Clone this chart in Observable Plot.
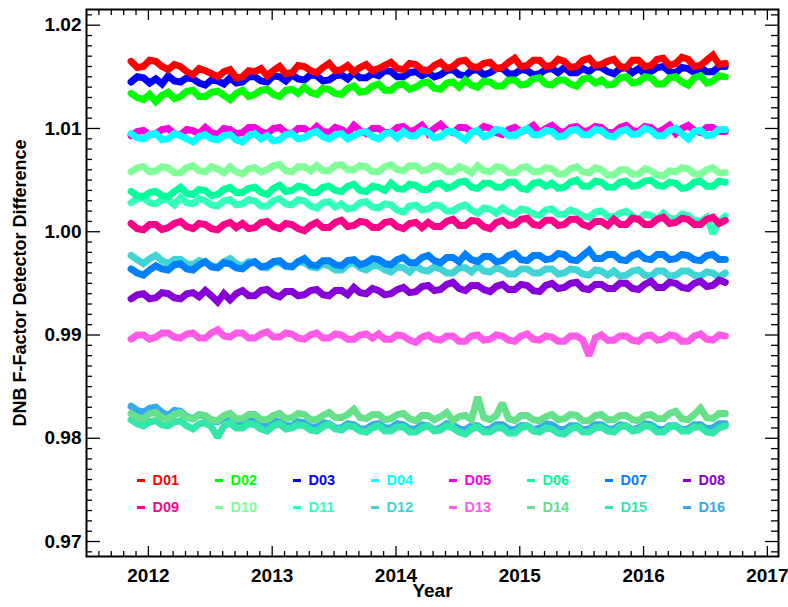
<!DOCTYPE html>
<html>
<head>
<meta charset="utf-8">
<script src="https://cdn.jsdelivr.net/npm/d3@7"></script>
<script src="https://cdn.jsdelivr.net/npm/@observablehq/plot@0.6"></script>
<style>
  body { margin: 0; background: #fff; }
  #wrap { position: relative; width: 788px; height: 607px; font-family: "Liberation Sans", Arial, sans-serif; }
  #legend { position: absolute; left: 137px; top: 466.5px; display: grid; grid-template-columns: repeat(8, 78px); grid-auto-rows: 27px; font-weight: bold; font-size: 14.5px; }
  #legend .item { display: flex; align-items: center; white-space: nowrap; }
  #legend .dash { display: inline-block; width: 8px; height: 3px; margin-right: 7.5px; }
</style>
</head>
<body>
<div id="wrap"><div id="legend"></div></div>
<script>
// Sample times (decimal year)
const t = [2011.86, 2011.91, 2011.96,
  2012.01, 2012.06, 2012.11, 2012.16, 2012.21, 2012.26, 2012.31, 2012.36, 2012.41, 2012.46, 2012.51, 2012.56, 2012.61, 2012.66, 2012.71, 2012.76, 2012.81, 2012.86, 2012.91, 2012.96,
  2013.01, 2013.06, 2013.11, 2013.16, 2013.21, 2013.26, 2013.31, 2013.36, 2013.41, 2013.46, 2013.51, 2013.56, 2013.61, 2013.66, 2013.71, 2013.76, 2013.81, 2013.86, 2013.91, 2013.96,
  2014.01, 2014.06, 2014.11, 2014.16, 2014.21, 2014.26, 2014.31, 2014.36, 2014.41, 2014.46, 2014.51, 2014.56, 2014.61, 2014.66, 2014.71, 2014.76, 2014.81, 2014.86, 2014.91, 2014.96,
  2015.01, 2015.06, 2015.11, 2015.16, 2015.21, 2015.26, 2015.31, 2015.36, 2015.41, 2015.46, 2015.51, 2015.56, 2015.61, 2015.66, 2015.71, 2015.76, 2015.81, 2015.86, 2015.91, 2015.96,
  2016.01, 2016.06, 2016.11, 2016.16, 2016.21, 2016.26, 2016.31, 2016.36, 2016.41, 2016.46, 2016.51, 2016.56, 2016.61, 2016.66];

const D01 = [1.0165,1.0159,1.0160,1.0166,1.0165,1.0160,1.0157,1.0162,1.0160,1.0155,1.0152,1.0158,1.0156,1.0153,1.0150,1.0155,1.0157,1.0149,1.0150,1.0156,1.0155,1.0158,1.0151,1.0156,1.0160,1.0153,1.0154,1.0161,1.0160,1.0156,1.0154,1.0159,1.0163,1.0156,1.0157,1.0161,1.0155,1.0159,1.0162,1.0156,1.0158,1.0161,1.0164,1.0158,1.0157,1.0163,1.0162,1.0157,1.0156,1.0161,1.0164,1.0158,1.0160,1.0165,1.0166,1.0160,1.0159,1.0163,1.0164,1.0158,1.0159,1.0164,1.0168,1.0160,1.0161,1.0166,1.0166,1.0160,1.0161,1.0167,1.0165,1.0159,1.0160,1.0166,1.0168,1.0161,1.0162,1.0165,1.0167,1.0160,1.0159,1.0166,1.0166,1.0160,1.0161,1.0167,1.0168,1.0161,1.0163,1.0169,1.0167,1.0160,1.0161,1.0166,1.0171,1.0162,1.0163];
const D02 = [1.0134,1.0130,1.0128,1.0133,1.0126,1.0132,1.0135,1.0129,1.0131,1.0136,1.0137,1.0131,1.0131,1.0135,1.0136,1.0132,1.0128,1.0134,1.0137,1.0131,1.0133,1.0137,1.0138,1.0133,1.0131,1.0137,1.0138,1.0134,1.0140,1.0135,1.0133,1.0139,1.0138,1.0134,1.0133,1.0139,1.0141,1.0135,1.0136,1.0141,1.0143,1.0137,1.0137,1.0142,1.0143,1.0138,1.0140,1.0144,1.0145,1.0139,1.0138,1.0144,1.0145,1.0140,1.0147,1.0142,1.0140,1.0146,1.0145,1.0141,1.0141,1.0147,1.0147,1.0142,1.0143,1.0148,1.0149,1.0143,1.0142,1.0147,1.0147,1.0143,1.0141,1.0148,1.0149,1.0144,1.0147,1.0142,1.0143,1.0149,1.0150,1.0144,1.0145,1.0150,1.0149,1.0143,1.0143,1.0149,1.0150,1.0145,1.0142,1.0149,1.0151,1.0144,1.0146,1.0151,1.0150];
const D03 = [1.0145,1.0150,1.0149,1.0144,1.0148,1.0143,1.0151,1.0146,1.0145,1.0149,1.0148,1.0144,1.0142,1.0147,1.0146,1.0143,1.0149,1.0144,1.0145,1.0150,1.0150,1.0146,1.0145,1.0151,1.0150,1.0146,1.0152,1.0148,1.0147,1.0152,1.0151,1.0146,1.0147,1.0151,1.0152,1.0148,1.0154,1.0149,1.0149,1.0153,1.0151,1.0156,1.0155,1.0150,1.0150,1.0154,1.0155,1.0151,1.0154,1.0150,1.0152,1.0156,1.0157,1.0152,1.0151,1.0156,1.0157,1.0152,1.0154,1.0158,1.0158,1.0153,1.0153,1.0157,1.0156,1.0152,1.0153,1.0157,1.0158,1.0154,1.0159,1.0154,1.0154,1.0158,1.0155,1.0160,1.0159,1.0155,1.0153,1.0158,1.0159,1.0154,1.0158,1.0153,1.0155,1.0159,1.0160,1.0155,1.0154,1.0159,1.0158,1.0154,1.0159,1.0155,1.0155,1.0160,1.0160];
const D04 = [1.0095,1.0091,1.0090,1.0094,1.0095,1.0089,1.0090,1.0095,1.0093,1.0090,1.0087,1.0092,1.0094,1.0090,1.0089,1.0093,1.0094,1.0089,1.0087,1.0093,1.0095,1.0090,1.0093,1.0088,1.0089,1.0094,1.0095,1.0090,1.0091,1.0095,1.0097,1.0092,1.0090,1.0094,1.0095,1.0090,1.0093,1.0096,1.0097,1.0092,1.0090,1.0095,1.0096,1.0091,1.0097,1.0093,1.0093,1.0098,1.0096,1.0091,1.0092,1.0097,1.0097,1.0093,1.0089,1.0096,1.0098,1.0092,1.0094,1.0099,1.0098,1.0093,1.0093,1.0097,1.0100,1.0094,1.0094,1.0098,1.0097,1.0092,1.0093,1.0098,1.0099,1.0094,1.0094,1.0099,1.0098,1.0093,1.0092,1.0097,1.0099,1.0094,1.0095,1.0100,1.0098,1.0093,1.0093,1.0098,1.0100,1.0095,1.0090,1.0097,1.0098,1.0093,1.0094,1.0099,1.0099];
const D05 = [1.0093,1.0097,1.0098,1.0094,1.0095,1.0099,1.0100,1.0095,1.0094,1.0099,1.0098,1.0095,1.0101,1.0096,1.0094,1.0100,1.0099,1.0095,1.0096,1.0101,1.0101,1.0097,1.0095,1.0100,1.0101,1.0096,1.0095,1.0100,1.0100,1.0096,1.0102,1.0097,1.0096,1.0101,1.0099,1.0095,1.0103,1.0098,1.0095,1.0100,1.0100,1.0096,1.0096,1.0101,1.0102,1.0097,1.0099,1.0103,1.0095,1.0100,1.0104,1.0098,1.0096,1.0101,1.0101,1.0097,1.0097,1.0102,1.0100,1.0096,1.0094,1.0099,1.0101,1.0097,1.0099,1.0103,1.0096,1.0100,1.0103,1.0098,1.0096,1.0101,1.0102,1.0097,1.0098,1.0102,1.0101,1.0096,1.0096,1.0101,1.0103,1.0098,1.0097,1.0102,1.0101,1.0096,1.0099,1.0103,1.0095,1.0100,1.0103,1.0098,1.0096,1.0101,1.0101,1.0097,1.0097];
const D06 = [1.0039,1.0035,1.0034,1.0038,1.0039,1.0035,1.0034,1.0039,1.0043,1.0037,1.0036,1.0041,1.0040,1.0035,1.0036,1.0041,1.0043,1.0038,1.0038,1.0042,1.0043,1.0038,1.0036,1.0042,1.0045,1.0039,1.0040,1.0044,1.0043,1.0038,1.0038,1.0043,1.0044,1.0040,1.0039,1.0044,1.0046,1.0040,1.0039,1.0044,1.0043,1.0040,1.0047,1.0042,1.0041,1.0046,1.0045,1.0041,1.0041,1.0046,1.0047,1.0042,1.0044,1.0048,1.0049,1.0043,1.0042,1.0047,1.0047,1.0043,1.0043,1.0048,1.0048,1.0042,1.0041,1.0047,1.0048,1.0044,1.0047,1.0042,1.0043,1.0048,1.0050,1.0044,1.0044,1.0049,1.0048,1.0043,1.0043,1.0048,1.0049,1.0044,1.0045,1.0049,1.0050,1.0045,1.0044,1.0048,1.0047,1.0042,1.0043,1.0048,1.0049,1.0044,1.0044,1.0049,1.0048];
const D07 = [0.9964,0.9960,0.9958,0.9963,0.9967,0.9964,0.9963,0.9968,0.9969,0.9964,0.9963,0.9968,0.9971,0.9966,0.9965,0.9970,0.9969,0.9965,0.9964,0.9969,0.9971,0.9966,0.9967,0.9971,0.9972,0.9967,0.9966,0.9971,0.9974,0.9968,0.9967,0.9972,0.9972,0.9968,0.9967,0.9972,0.9973,0.9968,0.9970,0.9974,0.9973,0.9969,0.9968,0.9973,0.9975,0.9970,0.9970,0.9975,0.9977,0.9972,0.9970,0.9975,0.9975,0.9971,0.9978,0.9973,0.9971,0.9976,0.9976,0.9971,0.9972,0.9977,0.9979,0.9973,0.9972,0.9977,0.9977,0.9973,0.9974,0.9979,0.9978,0.9973,0.9972,0.9977,0.9982,0.9974,0.9974,0.9978,0.9978,0.9973,0.9972,0.9977,0.9979,0.9974,0.9973,0.9978,0.9978,0.9973,0.9974,0.9978,0.9977,0.9973,0.9972,0.9977,0.9978,0.9973,0.9973];
const D08 = [0.9935,0.9939,0.9940,0.9935,0.9936,0.9941,0.9940,0.9936,0.9935,0.9940,0.9941,0.9937,0.9943,0.9938,0.9932,0.9940,0.9934,0.9940,0.9943,0.9938,0.9938,0.9943,0.9944,0.9939,0.9937,0.9942,0.9942,0.9938,0.9939,0.9943,0.9944,0.9939,0.9938,0.9943,0.9943,0.9939,0.9946,0.9941,0.9940,0.9945,0.9943,0.9939,0.9940,0.9944,0.9946,0.9941,0.9942,0.9947,0.9948,0.9943,0.9944,0.9949,0.9951,0.9945,0.9943,0.9948,0.9948,0.9944,0.9942,0.9947,0.9949,0.9944,0.9944,0.9949,0.9948,0.9943,0.9942,0.9948,0.9950,0.9945,0.9946,0.9950,0.9951,0.9945,0.9944,0.9949,0.9949,0.9945,0.9945,0.9950,0.9950,0.9945,0.9944,0.9949,0.9952,0.9946,0.9946,0.9951,0.9950,0.9946,0.9945,0.9950,0.9952,0.9947,0.9948,0.9953,0.9951];
const D09 = [1.0008,1.0003,1.0002,1.0007,1.0007,1.0002,1.0004,1.0008,1.0010,1.0005,1.0003,1.0008,1.0007,1.0003,1.0002,1.0007,1.0009,1.0004,1.0008,1.0003,1.0004,1.0009,1.0010,1.0005,1.0003,1.0008,1.0007,1.0003,1.0001,1.0006,1.0009,1.0004,1.0004,1.0009,1.0011,1.0005,1.0006,1.0010,1.0009,1.0004,1.0004,1.0009,1.0010,1.0005,1.0003,1.0008,1.0009,1.0004,1.0009,1.0005,1.0005,1.0010,1.0012,1.0006,1.0006,1.0011,1.0010,1.0005,1.0003,1.0009,1.0011,1.0006,1.0007,1.0012,1.0013,1.0007,1.0006,1.0011,1.0011,1.0006,1.0007,1.0012,1.0012,1.0007,1.0005,1.0010,1.0010,1.0006,1.0012,1.0007,1.0007,1.0013,1.0012,1.0007,1.0007,1.0012,1.0014,1.0008,1.0009,1.0013,1.0012,1.0007,1.0007,1.0012,1.0014,1.0008,1.0011];
const D10 = [1.0058,1.0062,1.0063,1.0058,1.0059,1.0063,1.0062,1.0057,1.0057,1.0062,1.0064,1.0059,1.0058,1.0063,1.0061,1.0057,1.0063,1.0058,1.0056,1.0061,1.0062,1.0058,1.0060,1.0064,1.0065,1.0059,1.0058,1.0063,1.0063,1.0059,1.0064,1.0059,1.0059,1.0064,1.0065,1.0060,1.0060,1.0064,1.0063,1.0058,1.0058,1.0063,1.0065,1.0060,1.0059,1.0064,1.0064,1.0059,1.0060,1.0064,1.0063,1.0058,1.0058,1.0063,1.0061,1.0057,1.0064,1.0059,1.0058,1.0063,1.0062,1.0057,1.0057,1.0062,1.0063,1.0058,1.0058,1.0062,1.0061,1.0056,1.0056,1.0061,1.0063,1.0058,1.0057,1.0062,1.0060,1.0055,1.0055,1.0060,1.0060,1.0056,1.0056,1.0061,1.0059,1.0055,1.0054,1.0059,1.0058,1.0062,1.0061,1.0056,1.0056,1.0060,1.0062,1.0057,1.0057];
const D11 = [1.0028,1.0032,1.0033,1.0028,1.0027,1.0031,1.0031,1.0026,1.0033,1.0028,1.0027,1.0032,1.0030,1.0026,1.0025,1.0030,1.0031,1.0026,1.0027,1.0031,1.0030,1.0025,1.0025,1.0030,1.0032,1.0027,1.0026,1.0031,1.0030,1.0025,1.0023,1.0028,1.0029,1.0024,1.0027,1.0022,1.0023,1.0028,1.0029,1.0024,1.0023,1.0027,1.0026,1.0021,1.0019,1.0025,1.0026,1.0021,1.0022,1.0026,1.0025,1.0020,1.0020,1.0024,1.0026,1.0021,1.0018,1.0023,1.0022,1.0018,1.0023,1.0019,1.0017,1.0022,1.0021,1.0017,1.0016,1.0021,1.0022,1.0017,1.0017,1.0021,1.0019,1.0015,1.0014,1.0019,1.0020,1.0015,1.0014,1.0018,1.0020,1.0015,1.0012,1.0017,1.0016,1.0012,1.0018,1.0013,1.0012,1.0017,1.0016,1.0011,1.0010,1.0014,0.9998,1.0010,1.0015];
const D12 = [0.9977,0.9973,0.9969,0.9974,0.9977,0.9972,0.9969,0.9973,0.9973,0.9969,0.9968,0.9972,0.9970,0.9967,0.9966,0.9971,0.9974,0.9969,0.9967,0.9971,0.9970,0.9966,0.9965,0.9970,0.9970,0.9966,0.9966,0.9971,0.9970,0.9966,0.9965,0.9969,0.9967,0.9963,0.9963,0.9968,0.9970,0.9965,0.9963,0.9967,0.9967,0.9963,0.9961,0.9966,0.9965,0.9961,0.9967,0.9963,0.9962,0.9966,0.9964,0.9960,0.9960,0.9965,0.9965,0.9961,0.9967,0.9962,0.9961,0.9965,0.9963,0.9959,0.9959,0.9964,0.9964,0.9960,0.9960,0.9964,0.9964,0.9959,0.9960,0.9964,0.9963,0.9959,0.9958,0.9963,0.9962,0.9958,0.9962,0.9957,0.9958,0.9962,0.9963,0.9958,0.9957,0.9962,0.9962,0.9957,0.9958,0.9962,0.9962,0.9958,0.9957,0.9961,0.9960,0.9956,0.9960];
const D13 = [0.9896,0.9900,0.9900,0.9896,0.9898,0.9902,0.9902,0.9898,0.9897,0.9901,0.9902,0.9897,0.9897,0.9902,0.9905,0.9899,0.9898,0.9902,0.9902,0.9897,0.9897,0.9901,0.9903,0.9898,0.9898,0.9902,0.9901,0.9897,0.9896,0.9900,0.9902,0.9897,0.9897,0.9901,0.9900,0.9896,0.9896,0.9900,0.9901,0.9897,0.9901,0.9896,0.9896,0.9900,0.9899,0.9895,0.9893,0.9898,0.9900,0.9896,0.9895,0.9899,0.9899,0.9894,0.9894,0.9899,0.9900,0.9895,0.9896,0.9900,0.9899,0.9895,0.9894,0.9899,0.9901,0.9896,0.9895,0.9899,0.9898,0.9894,0.9894,0.9899,0.9899,0.9895,0.9880,0.9897,0.9900,0.9895,0.9895,0.9899,0.9899,0.9895,0.9894,0.9899,0.9900,0.9895,0.9896,0.9900,0.9899,0.9894,0.9894,0.9899,0.9901,0.9896,0.9895,0.9900,0.9899];
const D14 = [0.9824,0.9820,0.9819,0.9824,0.9825,0.9820,0.9819,0.9823,0.9825,0.9820,0.9819,0.9823,0.9822,0.9818,0.9817,0.9822,0.9824,0.9819,0.9819,0.9823,0.9823,0.9818,0.9818,0.9822,0.9824,0.9819,0.9820,0.9824,0.9823,0.9818,0.9818,0.9822,0.9825,0.9820,0.9820,0.9823,0.9828,0.9820,0.9819,0.9823,0.9823,0.9818,0.9819,0.9823,0.9824,0.9819,0.9817,0.9822,0.9822,0.9818,0.9821,0.9825,0.9817,0.9821,0.9822,0.9818,0.9840,0.9820,0.9818,0.9822,0.9834,0.9819,0.9817,0.9822,0.9822,0.9818,0.9817,0.9821,0.9823,0.9818,0.9819,0.9823,0.9822,0.9817,0.9817,0.9822,0.9823,0.9818,0.9818,0.9822,0.9822,0.9818,0.9817,0.9822,0.9823,0.9819,0.9819,0.9824,0.9826,0.9819,0.9818,0.9823,0.9829,0.9820,0.9819,0.9824,0.9824];
const D15 = [0.9818,0.9814,0.9812,0.9816,0.9817,0.9813,0.9812,0.9816,0.9817,0.9812,0.9809,0.9814,0.9815,0.9811,0.9801,0.9812,0.9815,0.9810,0.9810,0.9814,0.9813,0.9809,0.9807,0.9812,0.9814,0.9809,0.9810,0.9813,0.9812,0.9808,0.9807,0.9811,0.9814,0.9809,0.9808,0.9812,0.9811,0.9807,0.9806,0.9810,0.9812,0.9807,0.9807,0.9811,0.9811,0.9806,0.9806,0.9810,0.9812,0.9807,0.9808,0.9812,0.9810,0.9806,0.9804,0.9809,0.9811,0.9806,0.9806,0.9810,0.9810,0.9805,0.9805,0.9810,0.9812,0.9807,0.9806,0.9810,0.9809,0.9805,0.9804,0.9809,0.9811,0.9806,0.9806,0.9810,0.9811,0.9807,0.9806,0.9811,0.9812,0.9807,0.9808,0.9812,0.9811,0.9806,0.9806,0.9811,0.9812,0.9807,0.9807,0.9811,0.9811,0.9806,0.9805,0.9810,0.9812];
const D16 = [0.9831,0.9827,0.9825,0.9829,0.9830,0.9825,0.9822,0.9827,0.9826,0.9821,0.9819,0.9823,0.9821,0.9817,0.9816,0.9820,0.9819,0.9815,0.9814,0.9818,0.9818,0.9814,0.9813,0.9817,0.9816,0.9812,0.9812,0.9816,0.9815,0.9811,0.9811,0.9815,0.9814,0.9810,0.9810,0.9814,0.9813,0.9809,0.9809,0.9813,0.9814,0.9810,0.9810,0.9814,0.9813,0.9809,0.9809,0.9813,0.9812,0.9808,0.9810,0.9814,0.9813,0.9809,0.9808,0.9812,0.9812,0.9808,0.9809,0.9813,0.9813,0.9809,0.9808,0.9812,0.9812,0.9808,0.9810,0.9814,0.9813,0.9809,0.9808,0.9812,0.9812,0.9808,0.9809,0.9813,0.9813,0.9809,0.9809,0.9813,0.9812,0.9808,0.9810,0.9814,0.9813,0.9809,0.9808,0.9812,0.9812,0.9808,0.9809,0.9813,0.9813,0.9809,0.9810,0.9814,0.9814];

const names = ["D01","D02","D03","D04","D05","D06","D07","D08","D09","D10","D11","D12","D13","D14","D15","D16"];
const colors = ["#ff0000","#00ff00","#0000ff","#00ffff","#ff00dd","#00ff99","#0080ff","#8800d8",
                "#ff0088","#80ff99","#33ffbb","#40d4d4","#ff5ae8","#66e08a","#33e6aa","#33aaea"];
const series = [D01,D02,D03,D04,D05,D06,D07,D08,D09,D10,D11,D12,D13,D14,D15,D16];

const yearTicks = [2012, 2013, 2014, 2015, 2016, 2017];
const yTicks = [0.97, 0.98, 0.99, 1.00, 1.01, 1.02];
const yTitle = "DNB F-Factor Detector Difference";
const xTitle = "Year";

// long table; drawn D16 first so D01 ends on top
const rows = [];
for (let i = series.length - 1; i >= 0; i--) {
  series[i].forEach((v, j) => { if (j < t.length) rows.push({series: names[i], t: t[j], v}); });
}

const xMinor = d3.range(20116, 20171).filter(i => i % 10 !== 0).map(i => i / 10);
const yMinor = d3.range(969, 1022).filter(i => i % 10 !== 0).map(i => i / 1000);

const W = 788, H = 607, mL = 86, mR = 10, mT = 9, mB = 51;
const iw = W - mL - mR, ih = H - mT - mB;
const tk = {stroke: "#000", strokeWidth: 1.3};

const chart = Plot.plot({
  width: W, height: H,
  marginLeft: mL, marginRight: mR, marginTop: mT, marginBottom: mB,
  x: {domain: [2011.5, 2017.09]},
  y: {domain: [0.96855, 1.02152]},
  color: {domain: names, range: colors},
  style: {fontFamily: "'Liberation Sans', Arial, sans-serif", fontSize: "19px", fontWeight: "bold", background: "#fff", color: "#000"},
  marks: [
    Plot.line(rows, {x: "t", y: "v", z: "series", stroke: "series", strokeWidth: 7, strokeLinejoin: "miter", strokeMiterlimit: 2}),
    // inward ticks, bottom/top
    Plot.ruleX(yearTicks, {...tk, insetTop: ih - 10}),
    Plot.ruleX(xMinor, {...tk, insetTop: ih - 5}),
    Plot.ruleX(yearTicks, {...tk, insetBottom: ih - 11}),
    Plot.ruleX(xMinor, {...tk, insetBottom: ih - 6}),
    // inward ticks, left/right
    Plot.ruleY(yTicks, {...tk, insetRight: iw - 14}),
    Plot.ruleY(yMinor, {...tk, insetRight: iw - 6}),
    Plot.ruleY(yTicks, {...tk, insetLeft: iw - 13}),
    Plot.ruleY(yMinor, {...tk, insetLeft: iw - 7}),
    Plot.frame({stroke: "#000", strokeWidth: 2}),
    Plot.axisX({ticks: yearTicks, tickSize: 0, tickPadding: 12, tickFormat: d => String(d), label: null}),
    Plot.axisY({ticks: yTicks, tickSize: 0, tickPadding: 5, tickFormat: d3.format(".2f"), label: null}),
    Plot.text([yTitle], {text: d => d, frameAnchor: "left", textAnchor: "middle", dx: -73, rotate: -90, lineAnchor: "top", fontSize: 18}),
    Plot.text([xTitle], {text: d => d, frameAnchor: "bottom", dy: 34, lineAnchor: "middle"})
  ]
});
const wrap = document.getElementById("wrap");
wrap.insertBefore(chart, wrap.firstChild);

const legend = document.getElementById("legend");
names.forEach((n, i) => {
  const item = document.createElement("div");
  item.className = "item";
  item.style.color = colors[i];
  const dash = document.createElement("span");
  dash.className = "dash";
  dash.style.background = colors[i];
  item.appendChild(dash);
  item.appendChild(document.createTextNode(n));
  legend.appendChild(item);
});
</script>
</body>
</html>
